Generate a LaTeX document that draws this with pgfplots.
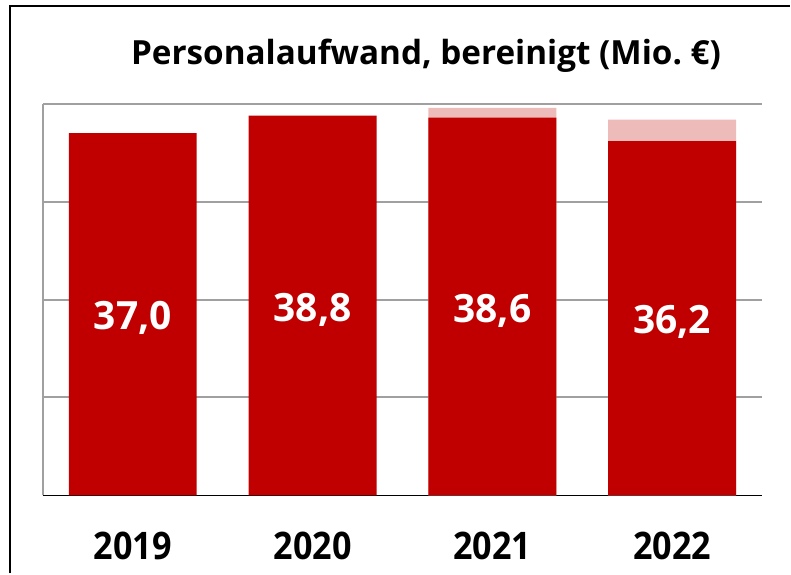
\documentclass[border=0pt]{standalone}
\usepackage{pgfplots}
\pgfplotsset{compat=1.18}
\usepackage{fontspec}
\setmainfont{Open Sans}
\definecolor{barred}{HTML}{C00000}
\definecolor{palered}{HTML}{EEBBBB}
\definecolor{gridgray}{HTML}{A0A0A0}
\begin{document}
\begin{tikzpicture}
\path (0pt,0pt) rectangle (791pt,574pt);
\draw[line width=2pt,black] (10pt,0pt) -- (10pt,568pt) -- (791pt,568pt);
\node[font=\bfseries\fontsize{33.3}{38}\selectfont, anchor=base west, inner sep=0pt] at (131pt,509pt) {Personalaufwand, bereinigt (Mio.~€)};
\begin{axis}[
  at={(43pt,78pt)}, anchor=south west, scale only axis,
  width=720pt, height=392pt,
  xmin=-0.5, xmax=3.5, ymin=0, ymax=40,
  ytick={10,20,30,40}, yticklabels={},
  xtick={0,1,2,3}, xticklabels={2019,2020,2021,2022},
  major tick length=0pt,
  axis x line*=bottom, axis y line*=left,
  axis line style={-},
  x axis line style={black, line width=1.5pt},
  y axis line style={gridgray, line width=2pt},
  ymajorgrids, grid style={gridgray, line width=2pt},
  xticklabel style={anchor=base, yshift=-64pt, font=\bfseries\fontsize{38}{42}\selectfont, xscale=0.9},
  /pgf/number format/.cd, use comma, fixed, fixed zerofill, precision=1, assume math mode=true,
]
\addplot[ybar, bar width=0.711, bar shift=0pt, fill=palered, draw=none] coordinates {(2,39.6) (3,38.4)};
\addplot[ybar, bar width=0.711, bar shift=0pt, fill=barred, draw=none] coordinates {(0,37.0) (1,38.8) (2,38.6) (3,36.2)};
\addplot[draw=none, point meta=explicit, nodes near coords,
  nodes near coords style={anchor=center, yshift=-4pt, text=white, font=\bfseries\fontsize{39}{44}\selectfont}]
  coordinates {(0,18.5) [37.0] (1,19.4) [38.8] (2,19.3) [38.6] (3,18.1) [36.2]};
\end{axis}
\end{tikzpicture}
\end{document}
